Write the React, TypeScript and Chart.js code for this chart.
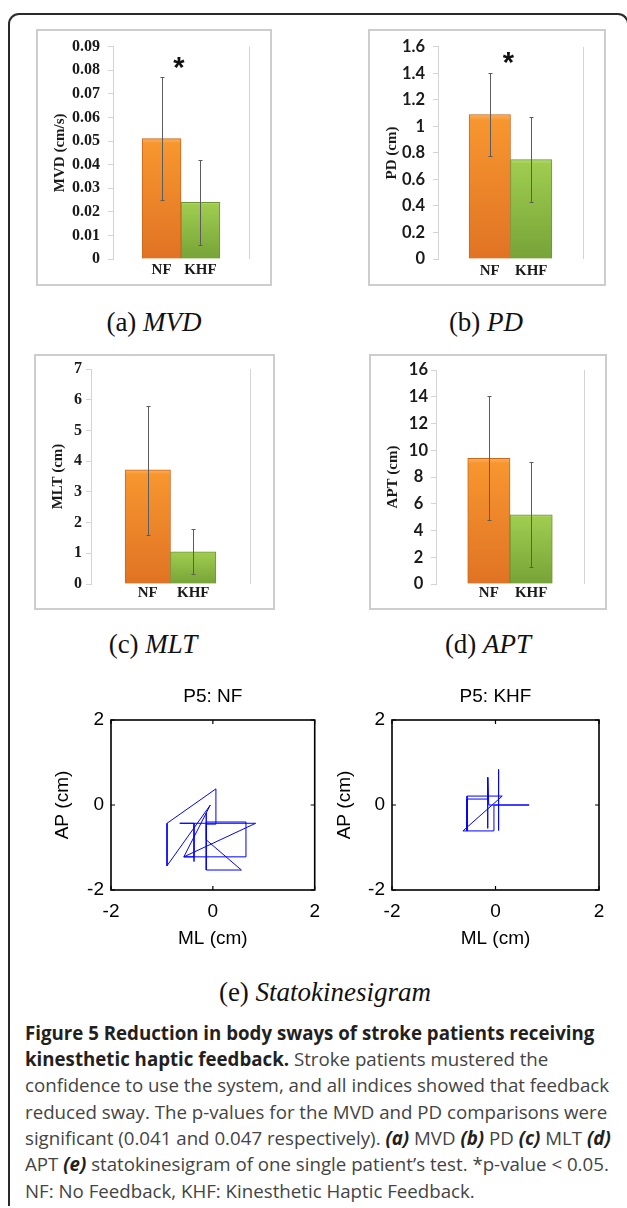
import React, { useEffect, useRef } from 'react';
import { Chart, registerables } from 'chart.js';

Chart.register(...registerables);

// ---------- data ----------
const categories = ['NF', 'KHF'];

const mvdMeans = [0.051, 0.024];
const mvdLow = [0.025, 0.006];
const mvdHigh = [0.077, 0.042];
const mvdTicks = [0, 0.01, 0.02, 0.03, 0.04, 0.05, 0.06, 0.07, 0.08, 0.09];

const pdMeans = [1.09, 0.75];
const pdLow = [0.78, 0.43];
const pdHigh = [1.4, 1.07];
const pdTicks = [0, 0.2, 0.4, 0.6, 0.8, 1, 1.2, 1.4, 1.6];

const mltMeans = [3.72, 1.05];
const mltLow = [1.6, 0.31];
const mltHigh = [5.81, 1.79];
const mltTicks = [0, 1, 2, 3, 4, 5, 6, 7];

const aptMeans = [9.4, 5.18];
const aptLow = [4.79, 1.25];
const aptHigh = [14.05, 9.15];
const aptTicks = [0, 2, 4, 6, 8, 10, 12, 14, 16];

// significance marker level (value on y axis)
const mvdStar = 0.082;
const pdStar = 1.5;

const swayTicks = [-2, 0, 2];
const nfSwayX = [0.06, 0.06, -0.9, -0.9, -0.05, -0.57, 0.84, -0.65, -0.37, -0.37, -0.37, -0.57, 0.65, 0.65, -0.13, -0.13, -0.13, 0.56, -0.13, -0.13, 0.06];
const nfSwayY = [-0.45, 0.38, -0.43, -1.43, 0.0, -1.22, -0.43, -0.43, -0.43, -1.33, -1.22, -1.22, -1.22, -0.4, -0.4, -0.19, -1.53, -1.53, -0.82, -0.45, -0.45];
const khfSwayX = [0.65, -0.13, -0.15, -0.15, -0.15, -0.55, -0.55, -0.63, 0.13, -0.55, -0.55, -0.03, -0.03, 0.06, 0.06, 0.06, 0.06, 0.65];
const khfSwayY = [0.0, 0.0, 0.65, -0.55, 0.14, 0.14, -0.61, -0.61, 0.21, 0.21, -0.61, -0.61, 0.0, 0.0, 0.84, -0.6, 0.0, 0.0];

// ---------- styles ----------
const SERIF = "'Liberation Serif', 'Times New Roman', serif";
const SANS = "'Liberation Sans', Arial, sans-serif";
const CALIBRI = "Lato, 'Open Sans', sans-serif";
const barFill = [
  ['#fcb05a', '#f7962f', '#e07324'],
  ['#b8de72', '#9fcc4f', '#77a338'],
];
const barEdge = ['#c9661f', '#6b9431'];

type Box = [number, number, number, number];
type Area = [number, number, number, number];

interface BarProps {
  box: Box;
  area: Area;
  means: number[];
  low: number[];
  high: number[];
  yTicks: number[];
  yTitle: string;
  tickFamily: string;
  tickSize: number;
  crossAlign: 'near' | 'center' | 'far';
  tickPadding: number;
  xPadding: number;
  star?: number;
}

function BarPanel(p: BarProps) {
  const ref = useRef<HTMLCanvasElement>(null);
  useEffect(() => {
    const [, , W, H] = p.box;
    const [aL, aR, aT, aB] = p.area;
    const extras = {
      id: 'extras',
      afterDatasetsDraw(chart: any) {
        const { ctx, chartArea } = chart;
        const ys = chart.scales.y;
        const meta = chart.getDatasetMeta(0);
        ctx.save();
        ctx.strokeStyle = '#d4d4d4';
        ctx.lineWidth = 1;
        const rx = Math.round(chartArea.right) + 0.5;
        ctx.beginPath();
        ctx.moveTo(rx, chartArea.top);
        ctx.lineTo(rx, chartArea.bottom);
        ctx.stroke();
        ctx.strokeStyle = '#5c5c5c';
        meta.data.forEach((bar: any, i: number) => {
          const x = Math.round(bar.x) + 0.5;
          const yt = Math.round(ys.getPixelForValue(p.high[i])) + 0.5;
          const yb = Math.round(ys.getPixelForValue(p.low[i])) + 0.5;
          ctx.beginPath();
          ctx.moveTo(x, yt);
          ctx.lineTo(x, yb);
          ctx.moveTo(x - 2, yt);
          ctx.lineTo(x + 2, yt);
          ctx.moveTo(x - 2, yb);
          ctx.lineTo(x + 2, yb);
          ctx.stroke();
        });
        if (p.star !== undefined) {
          const a = meta.data[0];
          const b = meta.data[1];
          const xm = (a.x + b.x) / 2 - 2;
          ctx.fillStyle = '#111';
          ctx.font = `bold 29px ${SANS}`;
          ctx.textAlign = 'center';
          ctx.textBaseline = 'alphabetic';
          ctx.fillText('*', xm, ys.getPixelForValue(p.star) + 12);
        }
        ctx.restore();
      },
    };
    const chart = new Chart(ref.current as HTMLCanvasElement, {
      type: 'bar',
      data: {
        datasets: [
          {
            data: p.means.map((v, i) => ({ x: i, y: v })),
            backgroundColor: (c: any) => {
              const i = c.dataIndex ?? 0;
              const chart = c.chart;
              const ys = chart.scales && chart.scales.y;
              const stops = barFill[i] || barFill[0];
              if (!chart.chartArea || !ys) return stops[1];
              const top = ys.getPixelForValue(p.means[i]);
              const bottom = ys.getPixelForValue(0);
              if (!isFinite(top) || !isFinite(bottom) || top === bottom) return stops[1];
              const g = chart.ctx.createLinearGradient(0, top, 0, bottom);
              g.addColorStop(0, stops[0]);
              g.addColorStop(0.04, stops[1]);
              g.addColorStop(1, stops[2]);
              return g;
            },
            borderColor: (c: any) => barEdge[c.dataIndex ?? 0] || barEdge[0],
            borderWidth: 1,
            barPercentage: 1,
            categoryPercentage: 1,
          } as any,
        ],
      },
      options: {
        animation: false,
        responsive: false,
        layout: { padding: { top: aT, right: W - aR, left: 0, bottom: 0 } },
        plugins: { legend: { display: false }, tooltip: { enabled: false }, title: { display: false } },
        scales: {
          x: {
            type: 'linear',
            min: -1.25,
            max: 2.25,
            offset: false,
            grid: { display: false, drawTicks: false },
            border: { display: false },
            afterBuildTicks: (s: any) => {
              s.ticks = categories.map((_, i) => ({ value: i }));
            },
            afterFit: (s: any) => {
              s.height = H - aB;
            },
            ticks: {
              autoSkip: false,
              maxRotation: 0,
              padding: p.xPadding,
              color: '#1a1a1a',
              font: { family: SERIF, weight: 'bold', size: 15 },
              callback: (v: any) => categories[v] ?? '',
            },
          },
          y: {
            type: 'linear',
            min: 0,
            max: p.yTicks[p.yTicks.length - 1],
            afterBuildTicks: (s: any) => {
              s.ticks = p.yTicks.map((v) => ({ value: v }));
            },
            afterFit: (s: any) => {
              s.width = aL;
            },
            border: { display: true, color: '#d4d4d4', width: 1 },
            grid: { display: true, drawOnChartArea: false, drawTicks: true, tickLength: 5, color: '#d4d4d4' },
            ticks: {
              autoSkip: false,
              crossAlign: p.crossAlign,
              padding: p.tickPadding,
              color: '#1a1a1a',
              font: { family: p.tickFamily, weight: 'bold', size: p.tickSize },
              callback: (v: any) => String(+Number(v).toFixed(3)),
            },
            title: {
              display: true,
              text: p.yTitle,
              color: '#1a1a1a',
              font: { family: SERIF, weight: 'bold', size: 15 },
              padding: { top: 15, bottom: 0 },
            },
          },
        },
      } as any,
      plugins: [extras],
    });
    return () => chart.destroy();
  }, []);
  const [l, t, w, h] = p.box;
  return (
    <>
      <div
        style={{
          position: 'absolute',
          left: l,
          top: t,
          width: w,
          height: h,
          border: '2px solid #cdcdcd',
          boxSizing: 'border-box',
        }}
      />
      <canvas ref={ref} width={w} height={h} style={{ position: 'absolute', left: l, top: t, width: w, height: h }} />
    </>
  );
}

interface SwayProps {
  box: Box;
  area: Area;
  title: string;
  xs: number[];
  ys: number[];
  yTitlePad: number;
}

function SwayPanel(p: SwayProps) {
  const ref = useRef<HTMLCanvasElement>(null);
  useEffect(() => {
    const [, , W, H] = p.box;
    const [aL, aR, , aB] = p.area;
    const frame = {
      id: 'frame',
      afterDraw(chart: any) {
        const { ctx, chartArea } = chart;
        const xs = chart.scales.x;
        const ys = chart.scales.y;
        ctx.save();
        ctx.strokeStyle = '#000';
        ctx.lineWidth = 1.6;
        ctx.strokeRect(chartArea.left, chartArea.top, chartArea.right - chartArea.left, chartArea.bottom - chartArea.top);
        ctx.lineWidth = 1.2;
        ctx.beginPath();
        swayTicks.forEach((v) => {
          const x = xs.getPixelForValue(v);
          ctx.moveTo(x, chartArea.bottom);
          ctx.lineTo(x, chartArea.bottom - 4);
          ctx.moveTo(x, chartArea.top);
          ctx.lineTo(x, chartArea.top + 4);
          const y = ys.getPixelForValue(v);
          ctx.moveTo(chartArea.left, y);
          ctx.lineTo(chartArea.left + 4, y);
          ctx.moveTo(chartArea.right, y);
          ctx.lineTo(chartArea.right - 4, y);
        });
        ctx.stroke();
        ctx.restore();
      },
    };
    const tickFont = { family: SANS, size: 19, weight: 'normal' };
    const chart = new Chart(ref.current as HTMLCanvasElement, {
      type: 'scatter',
      data: {
        datasets: [
          {
            data: p.xs.map((x, i) => ({ x, y: p.ys[i] })),
            showLine: true,
            borderColor: '#0000ff',
            borderWidth: 1,
            pointRadius: 0,
            fill: false,
            tension: 0,
          } as any,
        ],
      },
      options: {
        animation: false,
        responsive: false,
        layout: { padding: { top: 0, right: W - aR, left: 0, bottom: 0 } },
        plugins: {
          legend: { display: false },
          tooltip: { enabled: false },
          title: {
            display: true,
            fullSize: false,
            text: p.title,
            color: '#000',
            font: { family: SANS, size: 19, weight: 'normal' },
            padding: { top: 5.6, bottom: 11.6 },
          },
        },
        scales: {
          x: {
            type: 'linear',
            min: -2,
            max: 2,
            grid: { display: false, drawTicks: false },
            border: { display: false },
            afterBuildTicks: (s: any) => {
              s.ticks = swayTicks.map((v) => ({ value: v }));
            },
            afterFit: (s: any) => {
              s.height = H - aB;
            },
            ticks: { autoSkip: false, maxRotation: 0, padding: 10, color: '#000', font: tickFont, callback: (v: any) => String(v) },
            title: { display: true, text: 'ML (cm)', color: '#000', font: tickFont, padding: { top: 0, bottom: 19.6 } },
          },
          y: {
            type: 'linear',
            min: -2,
            max: 2,
            grid: { display: false, drawTicks: false },
            border: { display: false },
            afterBuildTicks: (s: any) => {
              s.ticks = swayTicks.map((v) => ({ value: v }));
            },
            afterFit: (s: any) => {
              s.width = aL;
            },
            ticks: { autoSkip: false, padding: 7, color: '#000', font: tickFont, callback: (v: any) => String(v) },
            title: { display: true, text: 'AP (cm)', color: '#000', font: tickFont, padding: { top: p.yTitlePad, bottom: 0 } },
          },
        },
      } as any,
      plugins: [frame],
    });
    return () => chart.destroy();
  }, []);
  const [l, t, w, h] = p.box;
  return <canvas ref={ref} width={w} height={h} style={{ position: 'absolute', left: l, top: t, width: w, height: h }} />;
}

function SubCaption(props: { cx: number; cy: number; tag: string; name: string }) {
  return (
    <div
      style={{
        position: 'absolute',
        left: props.cx - 200,
        top: props.cy - 16,
        width: 400,
        height: 32,
        lineHeight: '32px',
        textAlign: 'center',
        fontFamily: SERIF,
        fontSize: 27,
        color: '#111',
        whiteSpace: 'nowrap',
      }}
    >
      {props.tag} <i>{props.name}</i>
    </div>
  );
}

const B = (s: string) => <b style={{ color: '#231f20' }}>{s}</b>;
const BI = (s: string) => (
  <b style={{ color: '#231f20' }}>
    <i>{s}</i>
  </b>
);

export default function App() {
  const lineH = 26.3;
  const captionLines: React.ReactNode[] = [
    <>{B('Figure 5 Reduction in body sways of stroke patients receiving')}</>,
    <>
      {B('kinesthetic haptic feedback.')} Stroke patients mustered the
    </>,
    <>confidence to use the system, and all indices showed that feedback</>,
    <>reduced sway. The p-values for the MVD and PD comparisons were</>,
    <>
      significant (0.041 and 0.047 respectively). {BI('(a)')} MVD {BI('(b)')} PD {BI('(c)')} MLT {BI('(d)')}
    </>,
    <>
      APT {BI('(e)')} statokinesigram of one single patient’s test. *p-value &lt; 0.05.
    </>,
    <>NF: No Feedback, KHF: Kinesthetic Haptic Feedback.</>,
  ];
  return (
    <div
      style={{
        position: 'absolute',
        left: 0,
        top: 0,
        width: 627,
        height: 1208,
        background: '#fff',
        overflow: 'hidden',
      }}
    >
      <div
        style={{
          position: 'absolute',
          left: 8,
          top: 13,
          width: 621,
          height: 1193,
          border: '2px solid #2a2a2a',
          borderBottom: 'none',
          borderTopLeftRadius: 11,
          borderTopRightRadius: 11,
          boxSizing: 'border-box',
        }}
      />
      <BarPanel
        box={[36, 29, 236, 257]}
        area={[77, 213, 14, 230]}
        means={mvdMeans}
        low={mvdLow}
        high={mvdHigh}
        yTicks={mvdTicks}
        yTitle="MVD (cm/s)"
        tickFamily={SERIF}
        tickSize={16}
        crossAlign="near"
        tickPadding={8}
        xPadding={2}
        star={mvdStar}
      />
      <BarPanel
        box={[368, 29, 238, 257]}
        area={[70, 215, 15, 230]}
        means={pdMeans}
        low={pdLow}
        high={pdHigh}
        yTicks={pdTicks}
        yTitle="PD (cm)"
        tickFamily={CALIBRI}
        tickSize={16.5}
        crossAlign="near"
        tickPadding={8}
        xPadding={3}
        star={pdStar}
      />
      <BarPanel
        box={[34, 354, 241, 256]}
        area={[57, 216, 15, 230]}
        means={mltMeans}
        low={mltLow}
        high={mltHigh}
        yTicks={mltTicks}
        yTitle="MLT (cm)"
        tickFamily={SERIF}
        tickSize={16}
        crossAlign="near"
        tickPadding={4}
        xPadding={0}
      />
      <BarPanel
        box={[369, 354, 238, 256]}
        area={[67, 215, 16, 230]}
        means={aptMeans}
        low={aptLow}
        high={aptHigh}
        yTicks={aptTicks}
        yTitle="APT (cm)"
        tickFamily={CALIBRI}
        tickSize={16.5}
        crossAlign="center"
        tickPadding={3}
        xPadding={0}
      />
      <SubCaption cx={154} cy={322} tag="(a)" name="MVD" />
      <SubCaption cx={486} cy={322} tag="(b)" name="PD" />
      <SubCaption cx={153} cy={644} tag="(c)" name="MLT" />
      <SubCaption cx={488} cy={644} tag="(d)" name="APT" />
      <SwayPanel box={[30, 680, 300, 290]} area={[81, 286, 40, 210]} title="P5: NF" xs={nfSwayX} ys={nfSwayY} yTitlePad={21.6} />
      <SwayPanel box={[330, 680, 297, 290]} area={[62, 269, 40, 210]} title="P5: KHF" xs={khfSwayX} ys={khfSwayY} yTitlePad={3.6} />
      <SubCaption cx={325} cy={992} tag="(e)" name="Statokinesigram" />
      <div
        style={{
          position: 'absolute',
          left: 25,
          top: 1033 - lineH / 2,
          fontFamily: "'Open Sans', 'Noto Sans', sans-serif",
          fontSize: 18.7,
          color: '#444',
          lineHeight: lineH + 'px',
        }}
      >
        {captionLines.map((ln, i) => (
          <div key={i} style={{ whiteSpace: 'nowrap', height: lineH }}>
            {ln}
          </div>
        ))}
      </div>
    </div>
  );
}
